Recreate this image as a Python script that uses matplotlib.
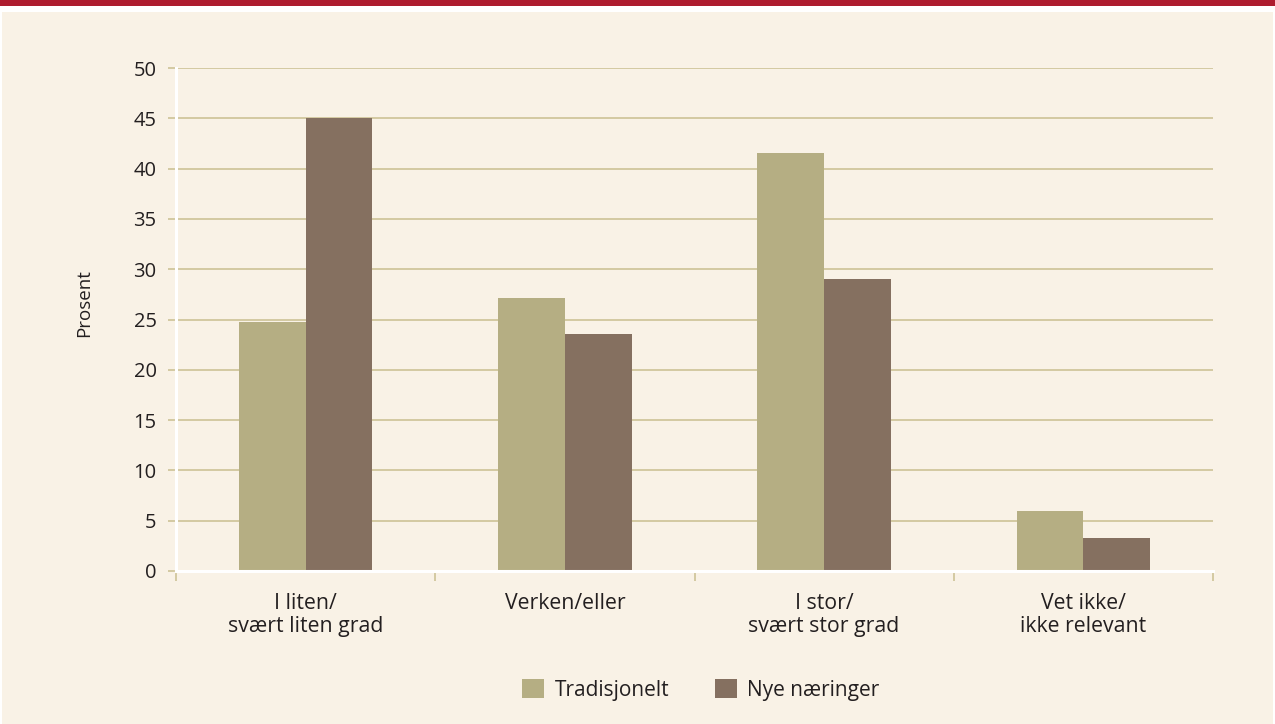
import matplotlib
matplotlib.use("Agg")
import matplotlib.pyplot as plt
from matplotlib.patches import Rectangle
import numpy as np

categories = ["I liten/\nsvært liten grad", "Verken/eller", "I stor/\nsvært stor grad", "Vet ikke/\nikke relevant"]
series_names = ["Tradisjonelt", "Nye næringer"]
tradisjonelt = [24.8, 27.1, 41.6, 6.0]
nye_naeringer = [45.0, 23.6, 29.0, 3.3]
yticks = [0, 5, 10, 15, 20, 25, 30, 35, 40, 45, 50]

plt.rcParams['font.family'] = ['Open Sans', 'DejaVu Sans']

W, H = 1275, 724
fig = plt.figure(figsize=(W / 100, H / 100), dpi=100)
bg = "#f9f2e6"
fig.patch.set_facecolor("white")
fig.patches.append(Rectangle((2 / W, 0), 1 - 4 / W, 1 - 12 / H, transform=fig.transFigure,
                             facecolor=bg, edgecolor="none", zorder=-2))
fig.patches.append(Rectangle((0, 1 - 6 / H), 1, 6 / H, transform=fig.transFigure,
                             facecolor="#ae1c2f", edgecolor="none", zorder=-2))

ax = fig.add_axes([176 / W, 1 - 571 / H, (1213 - 176) / W, (571 - 68) / H])
ax.set_zorder(1)
ax.set_facecolor(bg)

c_trad = "#b5ae83"
c_nye = "#857060"
grid_c = "#cdc396"
x = np.arange(len(categories))
w = 0.257
ax.bar(x - w / 2, tradisjonelt, w, color=c_trad, label=series_names[0], zorder=3)
ax.bar(x + w / 2, nye_naeringer, w, color=c_nye, label=series_names[1], zorder=3)

ax.set_xlim(-0.5, len(categories) - 0.5)
ax.set_ylim(0, 50)
ax.set_yticks(yticks)
ax.yaxis.grid(True, color=grid_c, linewidth=1.2, zorder=1)
ax.set_axisbelow(True)

for s in ["top", "right"]:
    ax.spines[s].set_visible(False)
for s in ["left", "bottom"]:
    ax.spines[s].set_color("white")
    ax.spines[s].set_linewidth(2.2)
    ax.spines[s].set_zorder(4)

ax.tick_params(axis="y", length=6, color=grid_c, width=1.2, labelsize=14.5,
               labelcolor="#231f20", pad=8)
# category boundary ticks on the x axis
ax.set_xticks(np.arange(-0.5, len(categories), 1.0))
ax.set_xticklabels([])
ax.tick_params(axis="x", length=7, color=grid_c, width=1.2, direction="out", pad=0)
for i, lab in enumerate(categories):
    ax.text(i, -2.2, lab, ha="center", va="top", fontsize=15.3, color="#231f20",
            linespacing=1.12, transform=ax.transData)

fig.text(84 / W, 1 - 303 / H, "Prosent", rotation=90, ha="center", va="center",
         fontsize=13.5, color="#231f20")

leg = fig.legend(loc="center", bbox_to_anchor=(701 / W, 1 - 690 / H), ncol=2, frameon=False,
                 fontsize=15, handlelength=1.05, handleheight=1.05, columnspacing=2.2,
                 handletextpad=0.5)
for t in leg.get_texts():
    t.set_color("#231f20")

fig.savefig("out.png", dpi=100, facecolor=fig.get_facecolor())
